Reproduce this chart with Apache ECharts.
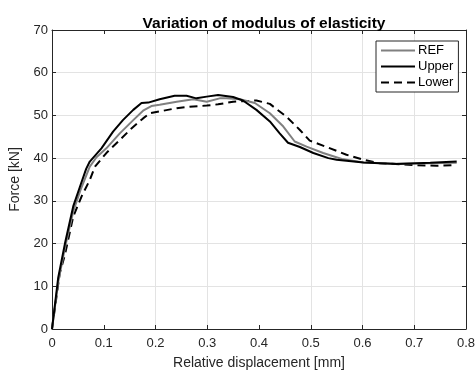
<!DOCTYPE html>
<html><head><meta charset="utf-8">
<script src="https://cdn.jsdelivr.net/npm/echarts@6/dist/echarts.min.js"></script>
<style>html,body{margin:0;padding:0;background:#fff}#c{width:476px;height:372px}</style>
</head><body><div id="c"></div>
<script>
var refX  = [0,0.012,0.025,0.041,0.055,0.073,0.086,0.105,0.131,0.157,0.176,0.192,0.208,0.241,0.273,0.299,0.324,0.337,0.363,0.392,0.421,0.447,0.469,0.492,0.524,0.56,0.602,0.666,0.731,0.782];
var refY  = [0,11,19,27.5,32.5,38.0,40.2,42.3,45.8,48.9,51.1,52.2,52.5,53.2,53.8,53.2,54.0,54.0,53.8,52.9,50.5,47.4,43.9,42.7,41.2,39.8,39.0,38.7,38.8,38.9];
var upX   = [0,0.012,0.025,0.041,0.054,0.066,0.073,0.0955,0.118,0.137,0.157,0.173,0.186,0.208,0.237,0.26,0.279,0.299,0.321,0.35,0.369,0.395,0.421,0.44,0.456,0.479,0.505,0.534,0.55,0.602,0.666,0.731,0.782];
var upY   = [0,12,20,28.7,33.3,37.5,39.2,42.3,46.2,48.9,51.3,52.9,53.0,53.8,54.6,54.6,54.0,54.4,54.8,54.3,53.5,51.3,48.6,45.8,43.6,42.6,41.2,40.0,39.6,39.0,38.6,38.9,39.2];
var loX   = [0,0.015,0.025,0.041,0.057,0.073,0.083,0.105,0.128,0.154,0.176,0.189,0.215,0.241,0.273,0.299,0.321,0.35,0.395,0.421,0.453,0.479,0.498,0.531,0.569,0.602,0.634,0.698,0.743,0.779];
var loY   = [0,13.1,17.4,26.3,31.0,34.9,38.0,41.2,43.9,47.0,49.3,50.5,51.1,51.7,52.1,52.3,52.6,53.2,53.5,52.7,49.7,46.6,44.1,42.6,40.8,39.6,38.8,38.4,38.2,38.4];
var seriesNames = ['REF','Upper','Lower'];
var titleText = 'Variation of modulus of elasticity';
var xName = 'Relative displacement [mm]';
var yName = 'Force [kN]';

function pairs(xs, ys){ return xs.map(function(x,i){ return [x, ys[i]]; }); }
var axc = '#262626', gridc = '#e3e3e3';
var font = 'Liberation Sans, Arial, sans-serif';
var chart = echarts.init(document.getElementById('c'));
var baseX = {type:'value', min:0, max:0.8, interval:0.1,
  axisLine:{show:true, onZero:false, lineStyle:{color:axc, width:1}},
  axisTick:{show:true, inside:true, length:4, lineStyle:{color:axc}},
  splitLine:{show:false}};
var baseY = {type:'value', min:0, max:70, interval:10,
  axisLine:{show:true, onZero:false, lineStyle:{color:axc, width:1}},
  axisTick:{show:true, inside:true, length:4, lineStyle:{color:axc}},
  splitLine:{show:false}};
chart.setOption({
  animation:false,
  backgroundColor:'#fff',
  title:{text:titleText, left:259, textAlign:'center', top:11,
    textStyle:{fontFamily:font, fontSize:15.5, fontWeight:'bold', color:'#000'}},
  grid:{left:52, right:10, top:30, bottom:43, containLabel:false, outerBoundsMode:'none'},
  legend:{data:seriesNames, orient:'vertical', left:376, top:41,
    backgroundColor:'#fff', borderColor:axc, borderWidth:1, borderRadius:0,
    padding:[3,5,3,4], itemGap:3, itemWidth:34, itemHeight:14,
    itemStyle:{opacity:0},
    textStyle:{fontFamily:font, fontSize:13, color:'#000', padding:[0,0,0,-2]}},
  xAxis:[
    Object.assign({}, baseX, {position:'bottom',
      name:xName, nameLocation:'middle', nameGap:27,
      nameTextStyle:{fontFamily:font, fontSize:14, color:axc},
      axisLabel:{show:true, fontFamily:font, fontSize:13, color:axc, margin:8},
      splitLine:{show:true, lineStyle:{width:1, color:[gridc,'rgba(0,0,0,0)',gridc,gridc,'rgba(0,0,0,0)',gridc,gridc,gridc,gridc]}}}),
    Object.assign({}, baseX, {position:'top', axisLabel:{show:false}})
  ],
  yAxis:[
    Object.assign({}, baseY, {position:'left',
      name:yName, nameLocation:'middle', nameGap:26,
      nameTextStyle:{fontFamily:font, fontSize:14, color:axc},
      axisLabel:{show:true, fontFamily:font, fontSize:13, color:axc, margin:4},
      splitLine:{show:true, lineStyle:{width:1, color:gridc}}}),
    Object.assign({}, baseY, {position:'right', axisLabel:{show:false}})
  ],
  series:[
    {name:seriesNames[0], type:'line', data:pairs(refX, refY), symbol:'none', z:3,
      lineStyle:{color:'#808080', width:2}, itemStyle:{color:'#808080'}},
    {name:seriesNames[1], type:'line', data:pairs(upX, upY), symbol:'none', z:4,
      lineStyle:{color:'#000', width:2}, itemStyle:{color:'#000'}},
    {name:seriesNames[2], type:'line', data:pairs(loX, loY), symbol:'none', z:2,
      lineStyle:{color:'#000', width:2, type:[8,5]}, itemStyle:{color:'#000'}}
  ]
});
</script></body></html>
